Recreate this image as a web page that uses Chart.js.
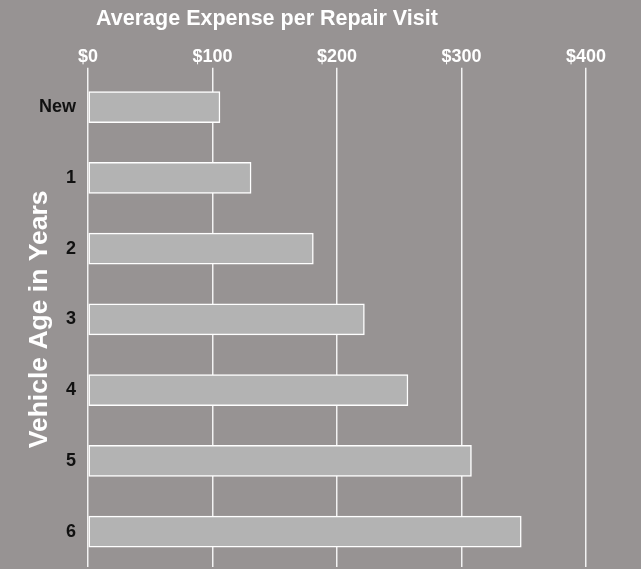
<!DOCTYPE html>
<html>
<head>
<meta charset="utf-8">
<script src="https://cdn.jsdelivr.net/npm/chart.js@4"></script>
<style>
  html, body { margin: 0; background: #979393; }
  #wrap { width: 641px; height: 569px; }
</style>
</head>
<body>
<div id="wrap"><canvas id="chart"></canvas></div>
<script>
// --- DATA ---
const ages = ['New', '1', '2', '3', '4', '5', '6'];
// average expense per repair visit, USD
const expense = [106, 131, 181, 222, 257, 308, 348];
const xMin = 0, xMax = 400, xStep = 100;

const FONT = '"Liberation Sans", Arial, sans-serif';

// title in the original sits left of the plot centre
const shiftTitle = {
  id: 'shiftTitle',
  afterLayout(chart) {
    const t = chart.titleBlock;
    if (t) { t.left = 0; t.right = 534; }
  }
};

// --- CHART ---
const ctx = document.getElementById('chart').getContext('2d');
new Chart(ctx, {
  type: 'bar',
  data: {
    labels: ages,
    datasets: [{
      data: expense,
      backgroundColor: '#b3b3b3',
      borderColor: '#ffffff',
      borderWidth: 1.5,
      borderSkipped: false,
      barThickness: 31
    }]
  },
  options: {
    indexAxis: 'y',
    responsive: true,
    maintainAspectRatio: false,
    animation: false,
    layout: { padding: { left: 0, right: 55, top: 0, bottom: 2 } },
    plugins: {
      legend: { display: false },
      tooltip: { enabled: false },
      title: {
        display: true,
        text: 'Average Expense per Repair Visit',
        color: '#ffffff',
        font: { family: FONT, size: 21.5, weight: 'bold' },
        padding: { top: 6, bottom: 0 }
      }
    },
    scales: {
      x: {
        position: 'top',
        min: xMin, max: xMax,
        ticks: {
          stepSize: xStep,
          color: '#ffffff',
          font: { family: FONT, size: 18, weight: 'bold' },
          padding: 0,
          callback: v => '$' + v
        },
        grid: { color: '#f2f2f2', lineWidth: 1.5, tickLength: 4, tickColor: '#f2f2f2' },
        border: { display: false },
        afterFit: s => { s.height = 40; s.paddingLeft = 0; s.paddingRight = 0; }
      },
      y: {
        grid: { display: false, drawTicks: true, tickLength: 12 },
        border: { display: false },
        ticks: {
          color: '#111111',
          font: { family: FONT, size: 18, weight: 'bold' },
          padding: 0
        },
        title: {
          display: true,
          text: 'Vehicle Age in Years',
          color: '#ffffff',
          font: { family: FONT, size: 26.5, weight: 'bold' },
          padding: { top: 24, bottom: 0 }
        },
        afterFit: s => { s.width = 88; s.paddingTop = 0; s.paddingBottom = 0; }
      }
    }
  },
  plugins: [shiftTitle]
});
</script>
</body>
</html>
